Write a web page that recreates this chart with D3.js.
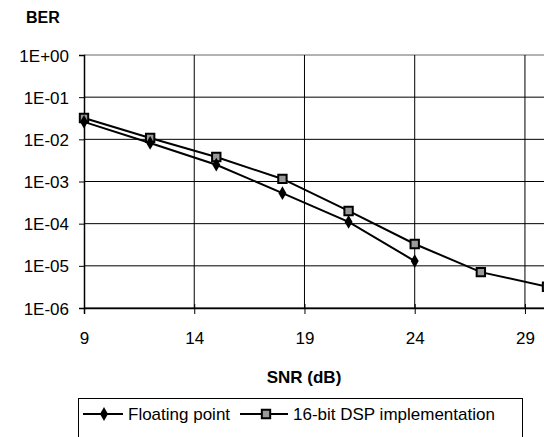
<!DOCTYPE html>
<html><head><meta charset="utf-8">
<script src="https://cdn.jsdelivr.net/npm/d3@7"></script>
<style>body{margin:0;background:#fff}svg{display:block}text{font-family:"Liberation Sans",Arial,sans-serif;fill:#000}</style>
</head><body>
<svg id="c" width="544" height="437"></svg>
<script>
const snrFloat = [9, 12, 15, 18, 21, 24];
const berFloat = [2.6e-2, 8.2e-3, 2.5e-3, 5.3e-4, 1.1e-4, 1.3e-5];
const snrDsp = [9, 12, 15, 18, 21, 24, 27, 30];
const berDsp = [3.2e-2, 1.08e-2, 3.8e-3, 1.15e-3, 2.0e-4, 3.3e-5, 7.1e-6, 3.2e-6];
const xTicks = [9, 14, 19, 24, 29];
const yTicks = [1, 1e-1, 1e-2, 1e-3, 1e-4, 1e-5, 1e-6];
const yTickLabels = ["1E+00","1E-01","1E-02","1E-03","1E-04","1E-05","1E-06"];
const seriesNames = ["Floating point", "16-bit DSP implementation"];

const svg = d3.select("#c");
const x = d3.scaleLinear().domain([9, 30]).range([84, 547]);
const y = d3.scaleLog().domain([1e-6, 1]).range([308, 55]);

// horizontal gridlines
svg.append("g").selectAll("line").data(yTicks).join("line")
  .attr("x1", 84).attr("x2", 544)
  .attr("y1", d => y(d)).attr("y2", d => y(d))
  .attr("stroke", (d,i) => i === 0 ? "#666" : "#000").attr("stroke-width", 1);
// vertical gridlines
svg.append("g").selectAll("line").data(xTicks.slice(1)).join("line")
  .attr("x1", d => x(d)).attr("x2", d => x(d))
  .attr("y1", 55).attr("y2", 308)
  .attr("stroke", "#000").attr("stroke-width", 1);

// axes
const yAxis = d3.axisLeft(y).tickValues(yTicks).tickFormat((d,i) => yTickLabels[i]).tickSize(5).tickPadding(10);
const gy = svg.append("g").attr("transform", "translate(84,0)").call(yAxis);
gy.select(".domain").attr("stroke", "#000").attr("stroke-width", 1.5);
gy.selectAll(".tick line").attr("stroke", "#000");
gy.selectAll(".tick text").attr("font-size", 17).attr("dy", "0.36em").style("font-family", '"Liberation Sans",Arial,sans-serif');

const xAxis = d3.axisBottom(x).tickValues(xTicks).tickFormat(d3.format("d")).tickSize(6).tickPadding(18);
const gx = svg.append("g").attr("transform", "translate(0,308)").call(xAxis);
gx.select(".domain").attr("stroke", "#000").attr("stroke-width", 1.5);
gx.selectAll(".tick line").attr("stroke", "#000").attr("y1", -4);
gx.selectAll(".tick text").attr("font-size", 17).style("font-family", '"Liberation Sans",Arial,sans-serif');

// titles
svg.append("text").attr("x", 26).attr("y", 23).attr("font-size", 16).attr("font-weight", "bold").text("BER");
svg.append("text").attr("x", 304).attr("y", 383).attr("text-anchor", "middle").attr("font-size", 17).attr("font-weight", "bold").text("SNR (dB)");

// lines
const line = d3.line().x(d => x(d[0])).y(d => y(d[1]));
const dFloat = snrFloat.map((s,i) => [s, berFloat[i]]);
const dDsp = snrDsp.map((s,i) => [s, berDsp[i]]);
svg.append("path").datum(dFloat).attr("d", line).attr("fill", "none").attr("stroke", "#000").attr("stroke-width", 2);
svg.append("path").datum(dDsp).attr("d", line).attr("fill", "none").attr("stroke", "#000").attr("stroke-width", 2);

const diamond = d3.symbol().type(d3.symbolDiamond).size(55);
const square = d3.symbol().type(d3.symbolSquare).size(70);
svg.append("g").selectAll("path").data(dDsp).join("path")
  .attr("d", square).attr("transform", d => `translate(${x(d[0])},${y(d[1])})`)
  .attr("fill", "#999").attr("stroke", "#000").attr("stroke-width", 2);
svg.append("g").selectAll("path").data(dFloat).join("path")
  .attr("d", diamond).attr("transform", d => `translate(${x(d[0])},${y(d[1])})`)
  .attr("fill", "#000");

// legend
const lg = svg.append("g");
lg.append("rect").attr("x", 78.5).attr("y", 398.5).attr("width", 444).attr("height", 60).attr("fill", "none").attr("stroke", "#000");
lg.append("line").attr("x1", 83).attr("x2", 123).attr("y1", 414).attr("y2", 414).attr("stroke", "#000").attr("stroke-width", 2);
lg.append("path").attr("d", diamond).attr("transform", "translate(104,414)").attr("fill", "#000");
lg.append("text").attr("x", 128).attr("y", 420).attr("font-size", 17).text(seriesNames[0]);
lg.append("line").attr("x1", 240).attr("x2", 288).attr("y1", 414).attr("y2", 414).attr("stroke", "#000").attr("stroke-width", 2);
lg.append("path").attr("d", square).attr("transform", "translate(266,414)").attr("fill", "#999").attr("stroke", "#000").attr("stroke-width", 2);
lg.append("text").attr("x", 293).attr("y", 420).attr("font-size", 17).text(seriesNames[1]);
</script>
</body></html>
